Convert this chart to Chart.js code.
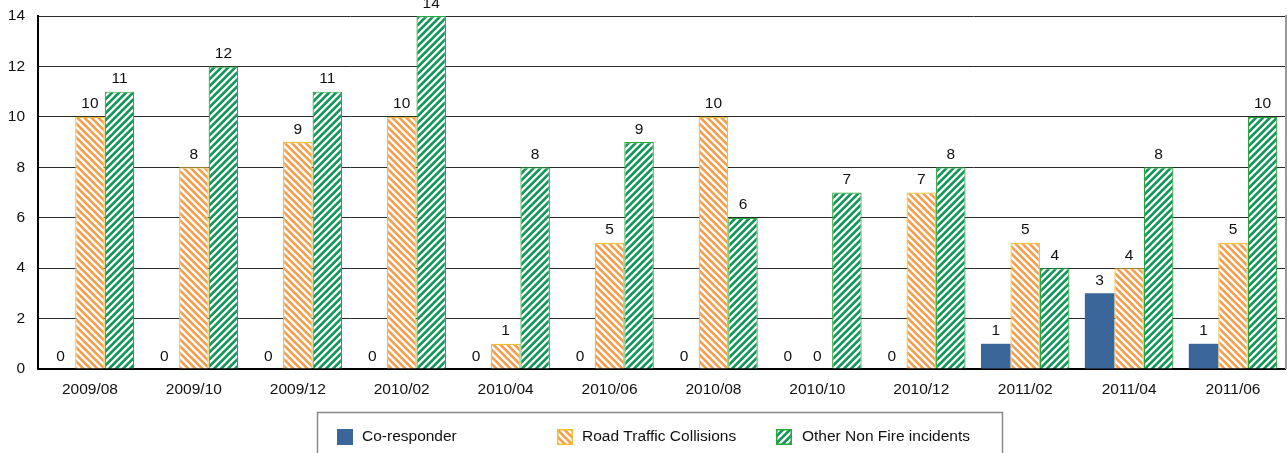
<!DOCTYPE html>
<html>
<head>
<meta charset="utf-8">
<script src="https://cdn.jsdelivr.net/npm/chart.js@4/dist/chart.umd.min.js"></script>
<style>
  html, body { margin: 0; padding: 0; background: #fff; }
  #wrap { width: 1287px; height: 453px; position: relative; }
</style>
</head>
<body>
<div id="wrap"><canvas id="c" width="1287" height="453"></canvas></div>
<script>
const categories = ['2009/08','2009/10','2009/12','2010/02','2010/04','2010/06','2010/08','2010/10','2010/12','2011/02','2011/04','2011/06'];
const coResponder = [0,0,0,0,0,0,0,0,0,1,3,1];
const roadTraffic = [10,8,9,10,1,5,10,0,7,5,4,5];
const otherNonFire = [11,12,11,14,8,9,6,7,8,4,8,10];
const seriesNames = ['Co-responder','Road Traffic Collisions','Other Non Fire incidents'];
const yTicks = [0,2,4,6,8,10,12,14];

const FONT = '"Liberation Sans", Arial, sans-serif';
const BLUE = '#3B6699';
const ORANGE = [242, 160, 80];
const ORANGE_BORDER = '#EFBE33';
const GREEN = [18, 150, 90];
const GREEN_BORDER = '#28A83A';

function makePattern(rgb, dir) {
  const s = 7, w = 3.6;
  const cv = document.createElement('canvas');
  cv.width = s; cv.height = s;
  const g = cv.getContext('2d');
  const img = g.createImageData(s, s);
  for (let y = 0; y < s; y++) {
    for (let x = 0; x < s; x++) {
      const d = dir === 'back' ? x - y : x + y;
      const m = ((d % s) + s) % s;
      // coverage with a soft edge
      let cov = 0;
      const sub = 4;
      for (let a = 0; a < sub; a++) for (let b = 0; b < sub; b++) {
        const xx = x + (a + 0.5) / sub, yy = y + (b + 0.5) / sub;
        const dd = dir === 'back' ? xx - yy : xx + yy;
        const mm = ((dd % s) + s) % s;
        if (mm < w) cov++;
      }
      cov /= sub * sub;
      const i = (y * s + x) * 4;
      img.data[i] = Math.round(255 + (rgb[0] - 255) * cov);
      img.data[i + 1] = Math.round(255 + (rgb[1] - 255) * cov);
      img.data[i + 2] = Math.round(255 + (rgb[2] - 255) * cov);
      img.data[i + 3] = 255;
    }
  }
  g.putImageData(img, 0, 0);
  return document.getElementById('c').getContext('2d').createPattern(cv, 'repeat');
}
const orangePat = makePattern(ORANGE, 'back');
const greenPat = makePattern(GREEN, 'fwd');

const labelsPlugin = {
  id: 'valLabels',
  afterDatasetsDraw(chart) {
    const ctx = chart.ctx;
    ctx.save();
    ctx.font = '15.5px ' + FONT;
    ctx.fillStyle = '#111';
    ctx.textAlign = 'center';
    ctx.textBaseline = 'bottom';
    chart.data.datasets.forEach((ds, di) => {
      const meta = chart.getDatasetMeta(di);
      meta.data.forEach((el, i) => {
        ctx.fillText(String(ds.data[i]), el.x, el.y - 5);
      });
    });
    ctx.restore();
  }
};

const framePlugin = {
  id: 'frame',
  afterDraw(chart) {
    const ctx = chart.ctx;
    const a = chart.chartArea;
    ctx.save();
    // right border
    ctx.strokeStyle = '#999';
    ctx.lineWidth = 2;
    ctx.beginPath();
    ctx.moveTo(a.right + 1, a.top - 1);
    ctx.lineTo(a.right + 1, a.bottom);
    ctx.stroke();
    // legend box
    ctx.strokeStyle = '#8a8a8a';
    ctx.lineWidth = 1.5;
    ctx.strokeRect(317.5, 412.5, 685, 60);
    const items = [
      { x: 337, tx: 362, fill: BLUE, border: null },
      { x: 557, tx: 582, fill: orangePat, border: ORANGE_BORDER },
      { x: 776, tx: 802, fill: greenPat, border: GREEN_BORDER }
    ];
    ctx.font = '15.5px ' + FONT;
    ctx.textAlign = 'left';
    ctx.textBaseline = 'middle';
    items.forEach((it, i) => {
      ctx.fillStyle = it.fill;
      ctx.fillRect(it.x, 429, 16, 16);
      if (it.border) {
        ctx.strokeStyle = it.border;
        ctx.lineWidth = 1.5;
        ctx.strokeRect(it.x + 0.75, 429.75, 14.5, 14.5);
      }
      ctx.fillStyle = '#111';
      ctx.fillText(seriesNames[i], it.tx, 437);
    });
    ctx.restore();
  }
};

new Chart(document.getElementById('c'), {
  type: 'bar',
  data: {
    labels: categories,
    datasets: [
      { label: seriesNames[0], data: coResponder, backgroundColor: BLUE, borderWidth: 0 },
      { label: seriesNames[1], data: roadTraffic, backgroundColor: orangePat, borderColor: ORANGE_BORDER, borderWidth: 1.2 },
      { label: seriesNames[2], data: otherNonFire, backgroundColor: greenPat, borderColor: GREEN_BORDER, borderWidth: 1.2 }
    ]
  },
  options: {
    responsive: false,
    animation: false,
    events: [],
    layout: { padding: { top: 16, right: 2, left: 0, bottom: 44 } },
    plugins: { legend: { display: false }, tooltip: { enabled: false } },
    datasets: { bar: { categoryPercentage: 0.852, barPercentage: 1.0 } },
    scales: {
      x: {
        grid: { display: false, drawTicks: false },
        border: { display: true, color: '#000', width: 2 },
        ticks: { color: '#111', font: { family: FONT, size: 15.5 }, padding: 11, maxRotation: 0, autoSkip: false },
        afterFit(s) { s.height = 40; s.paddingLeft = 0; s.paddingRight = 0; }
      },
      y: {
        min: 0, max: 14,
        afterBuildTicks(s) { s.ticks = yTicks.map(v => ({ value: v })); },
        grid: { color: '#2a2a2a', lineWidth: 1, drawTicks: false },
        border: { display: true, color: '#000', width: 2 },
        ticks: { color: '#111', font: { family: FONT, size: 15.5 }, padding: 13 },
        afterFit(s) { s.width = 38; s.paddingTop = 0; s.paddingBottom = 0; }
      }
    }
  },
  plugins: [labelsPlugin, framePlugin]
});
</script>
</body>
</html>
